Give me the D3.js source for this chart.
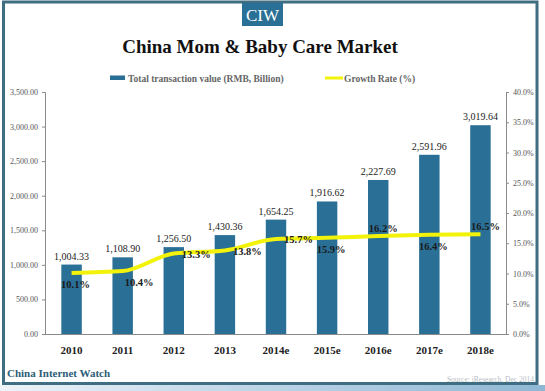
<!DOCTYPE html>
<html><head><meta charset="utf-8">
<script src="https://cdn.jsdelivr.net/npm/d3@7"></script>
<style>body{margin:0;background:#fff;}svg{display:block;}</style>
</head><body>
<svg id="c" width="545" height="391"></svg>
<script>
const categories = ["2010","2011","2012","2013","2014e","2015e","2016e","2017e","2018e"];
const values = [1004.33,1108.90,1256.50,1430.36,1654.25,1916.62,2227.69,2591.96,3019.64];
const growth = [10.1,10.4,13.3,13.8,15.7,15.9,16.2,16.4,16.5];
const leftTicks = [0,500,1000,1500,2000,2500,3000,3500];
const rightTicks = [0,5,10,15,20,25,30,35,40];
const growthLabelPlace = ["below","belowRight","right","right","right","below","above","below","above"];

const svg = d3.select("#c");
const serif = "'Liberation Serif','Times New Roman',serif";

// bottom gradient strip
const defs = svg.append("defs");
const g1 = defs.append("linearGradient").attr("id","strip").attr("x1","0").attr("x2","1");
g1.append("stop").attr("offset","0").attr("stop-color","#eef4f8");
g1.append("stop").attr("offset","0.35").attr("stop-color","#c9dceb");
g1.append("stop").attr("offset","1").attr("stop-color","#8fb7d4");
svg.append("rect").attr("x",0).attr("y",385).attr("width",545).attr("height",6).attr("fill","url(#strip)");

// frame
svg.append("rect").attr("x",3.5).attr("y",2).attr("width",533.5).attr("height",381.5)
  .attr("fill","#fff").attr("stroke","#3f6d82").attr("stroke-width",3);

// CIW box
svg.append("rect").attr("x",242).attr("y",3).attr("width",41).attr("height",23).attr("fill","#2a6f96");
svg.append("text").attr("x",262.5).attr("y",21).attr("text-anchor","middle")
  .attr("font-family",serif).attr("font-size",17).attr("fill","#fff").text("CIW");

// title
svg.append("text").attr("x",260).attr("y",53).attr("text-anchor","middle")
  .attr("font-family",serif).attr("font-weight","bold").attr("font-size",19).attr("fill","#111")
  .text("China Mom & Baby Care Market");

// legend
svg.append("rect").attr("x",110).attr("y",75.5).attr("width",15).attr("height",4.5).attr("fill","#2a6f96");
svg.append("text").attr("x",128).attr("y",82).attr("font-family",serif).attr("font-weight","bold")
  .attr("font-size",9.5).attr("fill","#666").text("Total transaction value (RMB, Billion)");
svg.append("line").attr("x1",325).attr("x2",343).attr("y1",78).attr("y2",78)
  .attr("stroke","#f2f20a").attr("stroke-width",3);
svg.append("text").attr("x",344).attr("y",82).attr("font-family",serif).attr("font-weight","bold")
  .attr("font-size",9.5).attr("fill","#666").text("Growth Rate (%)");

const x0 = 45, x1 = 506, yTop = 92, yBot = 334;
const x = d3.scaleBand().domain(categories).range([x0+1, x1]).paddingInner(0.6).paddingOuter(0.3);
const yL = d3.scaleLinear().domain([0,3500]).range([yBot,yTop]);
const yR = d3.scaleLinear().domain([0,40]).range([yBot,yTop]);

// axes
const la = svg.append("g").attr("transform",`translate(${x0},0)`)
  .call(d3.axisLeft(yL).tickValues(leftTicks).tickSize(3).tickFormat(d3.format(",.2f")));
const ra = svg.append("g").attr("transform",`translate(${x1},0)`)
  .call(d3.axisRight(yR).tickValues(rightTicks).tickSize(3).tickFormat(d=>d.toFixed(1)+"%"));
[la,ra].forEach(a=>{
  a.attr("font-family",serif);
  a.select(".domain").attr("stroke","#8a8a8a");
  a.selectAll(".tick line").attr("stroke","#8a8a8a");
  a.selectAll(".tick text").attr("font-family",serif).attr("font-size",8).attr("fill","#555");
});
la.selectAll(".tick text").attr("x",-7);
ra.selectAll(".tick text").attr("x",7);

// bars
svg.append("g").selectAll("rect").data(values).join("rect")
  .attr("x",(d,i)=>x(categories[i])).attr("width",x.bandwidth())
  .attr("y",d=>yL(d)).attr("height",d=>yBot-yL(d)).attr("fill","#2a6f96");

// bottom axis line
svg.append("line").attr("x1",x0).attr("x2",x1).attr("y1",yBot+0.5).attr("y2",yBot+0.5).attr("stroke","#8a8a8a");

// x labels
svg.append("g").selectAll("text").data(categories).join("text")
  .attr("x",d=>x(d)+x.bandwidth()/2).attr("y",354).attr("text-anchor","middle")
  .attr("font-family",serif).attr("font-weight","bold").attr("font-size",11).attr("fill","#222").text(d=>d);

// value labels
svg.append("g").selectAll("text").data(values).join("text")
  .attr("x",(d,i)=>x(categories[i])+x.bandwidth()/2).attr("y",d=>yL(d)-5).attr("text-anchor","middle")
  .attr("font-family",serif).attr("font-size",10).attr("fill","#222").text(d=>d3.format(",.2f")(d));

// growth line
const cx = i => x(categories[i])+x.bandwidth()/2;
const line = d3.line().x((d,i)=>cx(i)).y(d=>yR(d)).curve(d3.curveMonotoneX);
svg.append("path").datum(growth).attr("d",line).attr("fill","none")
  .attr("stroke","#f2f20a").attr("stroke-width",4).attr("stroke-linecap","butt");

// growth labels
svg.append("g").selectAll("text").data(growth).join("text")
  .attr("x",(d,i)=>{const p=growthLabelPlace[i];
     if(p==="right") return cx(i)+8;
     if(p==="belowRight") return cx(i)+2;
     return cx(i)+(p==="above"?5:4);})
  .attr("y",(d,i)=>{const p=growthLabelPlace[i]; const yy=yR(d);
     return p==="right"? yy+4 : (p==="below"||p==="belowRight")? yy+15 : yy-4;})
  .attr("text-anchor",(d,i)=>{const p=growthLabelPlace[i]; return (p==="right"||p==="belowRight")?"start":"middle";})
  .attr("font-family",serif).attr("font-weight","bold").attr("font-size",10.5).attr("fill","#1a1a1a")
  .text(d=>d.toFixed(1)+"%");

// footer
svg.append("text").attr("x",7).attr("y",377).attr("font-family",serif).attr("font-weight","bold")
  .attr("font-size",11).attr("fill","#2d5d78").text("China Internet Watch");
svg.append("text").attr("x",534).attr("y",382).attr("text-anchor","end").attr("font-family",serif)
  .attr("font-size",7.5).attr("fill","#b8bec4").text("Source: iResearch, Dec 2014");
</script>
</body></html>
